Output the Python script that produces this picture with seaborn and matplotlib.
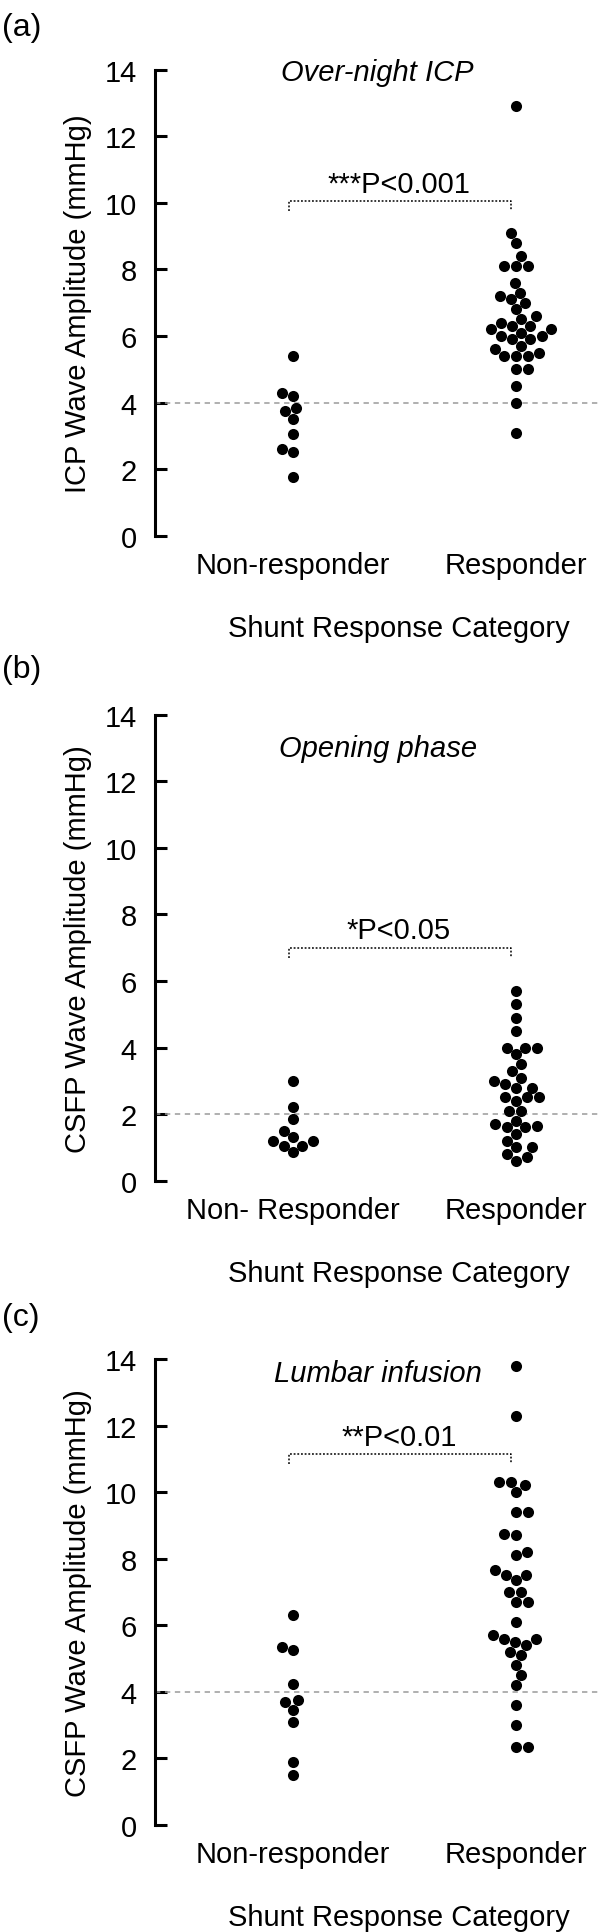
import matplotlib
matplotlib.use('Agg')

import numpy as np
import pandas as pd
import matplotlib.pyplot as plt
import seaborn as sns

# --- data (mmHg) ---
cats_ac = ['Non-responder', 'Responder']
cats_b = ['Non- Responder', 'Responder']

icp_non = [5.4, 4.3, 4.2, 3.85, 3.75, 3.5, 3.05, 2.6, 2.5, 1.75]
icp_resp = [12.9, 9.1, 8.8, 8.4, 8.1, 8.1, 8.1, 7.6, 7.3, 7.2, 7.1, 7.0,
            6.8, 6.6, 6.5, 6.4, 6.3, 6.3, 6.2, 6.2, 6.1, 6.0, 6.0, 5.9,
            5.9, 5.7, 5.6, 5.5, 5.4, 5.4, 5.4, 5.0, 5.0, 4.5, 4.0, 3.1]

open_non = [3.0, 2.2, 1.85, 1.5, 1.3, 1.2, 1.2, 1.05, 1.05, 0.85]
open_resp = [5.7, 5.3, 4.9, 4.5, 4.0, 4.0, 4.0, 3.8, 3.5, 3.3, 3.1, 3.0,
             2.9, 2.8, 2.8, 2.5, 2.5, 2.5, 2.4, 2.1, 2.1, 1.8, 1.7, 1.65,
             1.6, 1.6, 1.4, 1.2, 1.0, 1.0, 0.8, 0.7, 0.6]

lumb_non = [6.3, 5.35, 5.25, 4.25, 3.75, 3.7, 3.45, 3.1, 1.9, 1.5]
lumb_resp = [13.8, 12.3, 10.3, 10.3, 10.2, 10.0, 9.4, 9.4, 8.75, 8.7, 8.2,
             8.1, 7.65, 7.5, 7.5, 7.35, 7.0, 7.0, 6.7, 6.7, 6.1, 5.7, 5.6,
             5.6, 5.5, 5.4, 5.2, 5.1, 4.8, 4.5, 4.2, 3.6, 3.0, 2.35, 2.35]

letters = ['(a)', '(b)', '(c)']
titles = ['Over-night ICP', 'Opening phase', 'Lumbar infusion']
ylabels = ['ICP Wave Amplitude (mmHg)', 'CSFP Wave Amplitude (mmHg)',
           'CSFP Wave Amplitude (mmHg)']
cutoffs = [4, 2, 4]
p_texts = ['***P<0.001', '*P<0.05', '**P<0.01']
bracket_y = [10.05, 7.0, 11.15]
title_y = [13.7, 12.75, 13.35]

groups = [(icp_non, icp_resp, cats_ac), (open_non, open_resp, cats_b),
          (lumb_non, lumb_resp, cats_ac)]

# --- style ---
sns.set_theme(style='white')
plt.rcParams['font.family'] = ['Liberation Sans', 'DejaVu Sans']
plt.rcParams['text.color'] = 'black'
plt.rcParams['axes.labelcolor'] = 'black'
FS = 21

W, H = 600, 1933
fig = plt.figure(figsize=(W / 100, H / 100), dpi=100)

# pixel rows of the 14 and 0 ticks for each panel
rows = [(70.7, 536.7), (715.7, 1181.7), (1360, 1826)]
letter_y = [28, 670, 1318]
left_px = 155

for i, (top, bot) in enumerate(rows):
    ax = fig.add_axes([left_px / W, 1 - bot / H, 1 - left_px / W, (bot - top) / H])
    non, resp, cats = groups[i]
    df = pd.DataFrame({
        'cat': [cats[0]] * len(non) + [cats[1]] * len(resp),
        'val': non + resp,
    })
    sns.swarmplot(data=df, x='cat', y='val', order=cats, color='black',
                  size=8, linewidth=0, ax=ax, zorder=3)

    ax.axhline(cutoffs[i], color='#9a9a9a', lw=1.1, ls=(0, (3.5, 3)), zorder=1)

    # significance bracket
    yb = bracket_y[i]
    ax.plot([-0.02, -0.02, 0.98, 0.98], [yb - 0.3, yb, yb, yb - 0.3],
            color='black', lw=1.1, ls=(0, (1.2, 1.2)))
    ax.text(0.475, yb + 0.28, p_texts[i], ha='center', va='baseline',
            fontsize=FS, color='black')
    ax.text(0.38, title_y[i], titles[i], ha='center', va='baseline',
            fontsize=FS, style='italic', color='black')

    ax.set_xlim(-0.619, 1.377)
    ax.set_ylim(0, 14)
    ax.set_yticks(np.arange(0, 15, 2))
    for s in ['top', 'right', 'bottom']:
        ax.spines[s].set_visible(False)
    ax.spines['left'].set_linewidth(2.2)
    ax.spines['left'].set_color('black')
    ax.tick_params(axis='y', direction='in', length=8.5, width=2.2,
                   pad=13, labelsize=FS, colors='black', left=True)
    ax.tick_params(axis='x', length=0, pad=11, labelsize=FS, colors='black')

    ax.set_ylabel(ylabels[i], fontsize=FS, color='black')
    ax.yaxis.set_label_coords(-0.142, 0.5)
    ax.set_xlabel('Shunt Response Category', fontsize=FS, color='black')
    ax.xaxis.set_label_coords(0.548, -0.168)

    fig.text(2 / W, 1 - letter_y[i] / H, letters[i], ha='left', va='center',
             fontsize=FS + 2, color='black')

fig.savefig('out.png', dpi=100, facecolor='white')
